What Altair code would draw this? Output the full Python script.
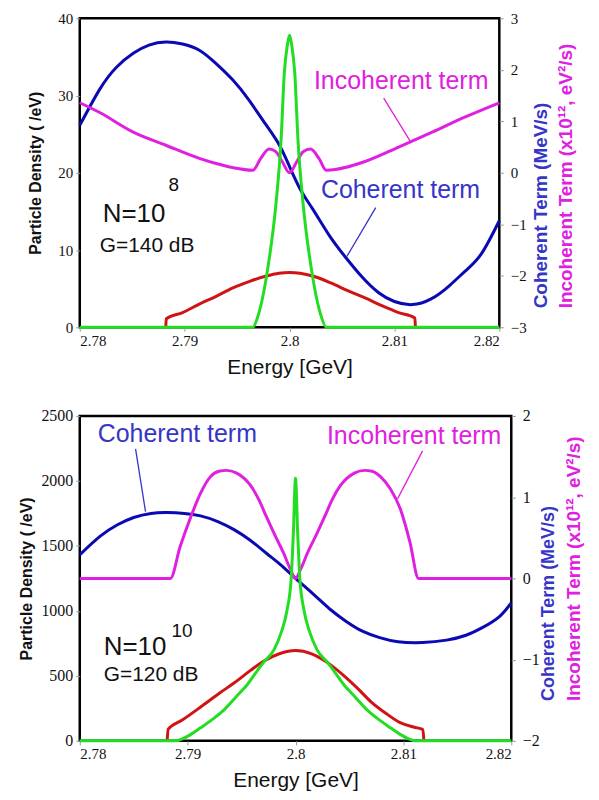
import altair as alt
import pandas as pd

# ---------------- data ----------------
# Top panel (N=1e8, G=140 dB)
top_green_E = [2.7800, 2.7965, 2.7970, 2.7979, 2.7987, 2.7992, 2.7995, 2.7998, 2.8000,
               2.8002, 2.8005, 2.8008, 2.8013, 2.8021, 2.8030, 2.8035, 2.8200]
top_green_v = [0, 0, 1.5, 7.4, 15.9, 24.4, 32.9, 36.6, 37.8,
               36.6, 32.9, 24.4, 15.9, 7.4, 1.5, 0, 0]

top_red_E = [2.7882, 2.78825, 2.7898, 2.7914, 2.7930, 2.7946, 2.7962, 2.7977, 2.7990, 2.8000,
             2.8010, 2.8023, 2.8040, 2.8056, 2.8072, 2.8088, 2.8104, 2.81195, 2.8120]
top_red_v = [0, 1.1, 1.9, 3.0, 4.0, 5.1, 5.95, 6.6, 7.0, 7.1,
             7.0, 6.6, 5.7, 4.7, 3.8, 2.8, 1.9, 1.2, 0]

top_blue_E = [2.7800, 2.7819, 2.7835, 2.7851, 2.7866, 2.7882, 2.7898, 2.7914, 2.7930, 2.7946,
              2.7961, 2.7977, 2.7990, 2.8000, 2.8011, 2.8022, 2.8038, 2.8053, 2.8069, 2.8085,
              2.8100, 2.8117, 2.8135, 2.8152, 2.8168, 2.8183, 2.8200]
top_blue_r = [0.92, 1.62, 2.05, 2.32, 2.48, 2.54, 2.50, 2.38, 2.12, 1.80,
              1.42, 0.95, 0.55, 0.12, -0.35, -0.70, -1.22, -1.63, -2.02, -2.33,
              -2.50, -2.56, -2.45, -2.20, -1.90, -1.57, -0.93]

top_mag_E = [2.7800, 2.7819, 2.7851, 2.7882, 2.7914, 2.7930, 2.7946, 2.7965, 2.79726, 2.79805,
             2.79869, 2.7993, 2.8000, 2.8007, 2.8013, 2.8020, 2.8028, 2.8035, 2.8072, 2.8104,
             2.8136, 2.8167, 2.8200]
top_mag_r = [1.36, 1.17, 0.79, 0.535, 0.28, 0.18, 0.10, 0.05, 0.28, 0.46,
             0.41, 0.22, 0.0, 0.22, 0.41, 0.46, 0.28, 0.05, 0.22, 0.50,
             0.79, 1.08, 1.36]

# Bottom panel (N=1e10, G=120 dB)
bot_green_E = [2.7800, 2.7889, 2.7895, 2.7903, 2.7912, 2.7923, 2.7934, 2.7945, 2.7955, 2.7965,
               2.7970, 2.7980, 2.7987, 2.7992, 2.7996, 2.7998, 2.8000, 2.8002, 2.8004, 2.8008,
               2.8013, 2.8020, 2.8030, 2.8035, 2.8045, 2.8055, 2.8066, 2.8077, 2.8088, 2.8097,
               2.8105, 2.8111, 2.8200]
bot_green_v = [0, 0, 15, 50, 100, 165, 240, 340, 430, 545,
               600, 700, 840, 1000, 1250, 1600, 2020, 1600, 1250, 1000,
               840, 700, 600, 545, 430, 340, 240, 165, 100, 50,
               15, 0, 0]

bot_red_E = [2.7881, 2.7882, 2.7895, 2.7912, 2.7930, 2.7943, 2.7958, 2.7970, 2.7985, 2.8000,
             2.8015, 2.8030, 2.8045, 2.8058, 2.8070, 2.8084, 2.8097, 2.8110, 2.8118, 2.8119]
bot_red_v = [0, 90, 160, 260, 370, 445, 540, 611, 670, 695,
             670, 600, 500, 400, 300, 210, 140, 105, 87, 0]

bot_blue_E = [2.7800, 2.7819, 2.7835, 2.7850, 2.7866, 2.7881, 2.7897, 2.7912, 2.7928, 2.7943,
              2.7958, 2.7973, 2.7986, 2.8000, 2.8017, 2.8032, 2.8047, 2.8062, 2.8078, 2.8095,
              2.8118, 2.8140, 2.8158, 2.8174, 2.8189, 2.8200]
bot_blue_r = [0.29, 0.52, 0.66, 0.75, 0.80, 0.81, 0.80, 0.77, 0.70, 0.60,
              0.47, 0.31, 0.17, 0.00, -0.20, -0.38, -0.53, -0.65, -0.73, -0.78,
              -0.79, -0.76, -0.70, -0.60, -0.47, -0.30]

bot_mag_E = [2.7800, 2.7884, 2.7893, 2.7903, 2.7912, 2.7921, 2.7929, 2.7936, 2.7945, 2.7958,
             2.7966, 2.7973, 2.7981, 2.7989, 2.7995, 2.8000, 2.8005, 2.8011, 2.8019, 2.8027,
             2.8034, 2.8042, 2.8055, 2.8064, 2.8071, 2.8079, 2.8088, 2.8097, 2.8106,
             2.8114, 2.8200]
bot_mag_r = [0, 0, 0.39, 0.76, 1.05, 1.25, 1.32, 1.33, 1.30, 1.15,
             0.97, 0.76, 0.53, 0.31, 0.12, 0.0, 0.12, 0.31, 0.53, 0.76,
             0.97, 1.15, 1.30, 1.33, 1.32, 1.25, 1.10, 0.86, 0.45,
             0.0, 0.0]

x_ticks = [2.78, 2.79, 2.80, 2.81, 2.82]
top_left_ticks = [0, 10, 20, 30, 40]
top_right_ticks = [-3, -2, -1, 0, 1, 2, 3]
bot_left_ticks = [0, 500, 1000, 1500, 2000, 2500]
bot_right_ticks = [-2, -1, 0, 1, 2]

# ---------------- styling ----------------
GREEN = "#22dd22"
RED = "#d01414"
BLUE = "#0a0ab4"
MAGENTA = "#e020e0"
BLUE_TXT = "#3535c8"
SANS = "Liberation Sans, Arial, sans-serif"
SERIF = "Liberation Serif, Times New Roman, serif"


def long_df(series):
    rows = []
    for name, xs, ys in series:
        for i, (e, v) in enumerate(zip(xs, ys)):
            rows.append({"series": name, "E": e, "v": v, "i": i})
    return pd.DataFrame(rows)


def text_layer(txt, x, y, size, color, weight="normal", angle=0, align="left"):
    return alt.Chart(pd.DataFrame({"t": [txt]})).mark_text(
        font=SANS, fontSize=size, color=color, fontWeight=weight, angle=angle,
        align=align, baseline="alphabetic" if angle == 0 else "middle"
    ).encode(x=alt.value(x), y=alt.value(y), text="t:N")


def rule_layer(x1, y1, x2, y2, color):
    return alt.Chart(pd.DataFrame({"a": [0]})).mark_rule(
        color=color, strokeWidth=1.3
    ).encode(x=alt.value(x1), x2=alt.value(x2), y=alt.value(y1), y2=alt.value(y2))


def panel(w, h, left_df, right_df, left_dom, left_ticks, right_dom, right_ticks,
          left_title_pad, label_size, extras):
    xenc = alt.X(
        "E:Q",
        scale=alt.Scale(domain=[2.78, 2.82], nice=False, zero=False),
        axis=alt.Axis(values=x_ticks, format=".3~g", title="Energy [GeV]",
                      labelFont=SERIF, labelFontSize=15, labelColor="#111",
                      labelPadding=2, tickSize=4, tickColor="#999",
                      titleFont=SANS, titleFontSize=21, titleFontWeight="normal",
                      titleColor="#111", titlePadding=8, domain=False, grid=False),
    )
    left = alt.Chart(left_df).mark_line(strokeWidth=3, interpolate="monotone").encode(
        x=xenc,
        y=alt.Y("v:Q", scale=alt.Scale(domain=left_dom, nice=False),
                axis=alt.Axis(orient="left", values=left_ticks, format="d",
                              title="Particle Density ( /eV)",
                              labelFont=SERIF, labelFontSize=label_size, labelColor="#111",
                              labelPadding=3, tickSize=4, tickColor="#999",
                              titleFont=SANS, titleFontSize=16, titleFontWeight="bold",
                              titleColor="#111", titlePadding=left_title_pad,
                              domain=False, grid=False)),
        color=alt.Color("series:N", scale=alt.Scale(domain=["red", "green"], range=[RED, GREEN]),
                        legend=None),
        order="i:Q",
    )
    right_axis = alt.Axis(orient="right", values=right_ticks, format="d", title=None,
                          labelFont=SERIF, labelFontSize=label_size, labelColor="#111",
                          labelPadding=7, tickSize=4, tickColor="#999",
                          domain=False, grid=False)
    rscale = alt.Scale(domain=right_dom, nice=False)
    blue = alt.Chart(right_df[right_df.series == "blue"]).mark_line(
        strokeWidth=3, interpolate="natural", color=BLUE).encode(
        x=xenc, y=alt.Y("v:Q", scale=rscale, axis=right_axis), order="i:Q")
    magenta = alt.Chart(right_df[right_df.series == "magenta"]).mark_line(
        strokeWidth=3, interpolate="monotone", color=MAGENTA).encode(
        x=xenc, y=alt.Y("v:Q", scale=rscale, axis=right_axis), order="i:Q")
    right = alt.layer(blue, magenta)
    return alt.layer(right, left, *extras).resolve_scale(y="independent", color="independent").properties(
        width=w, height=h)


top_left_df = long_df([("red", top_red_E, top_red_v), ("green", top_green_E, top_green_v)])
top_right_df = long_df([("blue", top_blue_E, top_blue_r), ("magenta", top_mag_E, top_mag_r)])
bot_left_df = long_df([("red", bot_red_E, bot_red_v), ("green", bot_green_E, bot_green_v)])
bot_right_df = long_df([("blue", bot_blue_E, bot_blue_r), ("magenta", bot_mag_E, bot_mag_r)])

top_extras = [
    text_layer("Incoherent term", 235, 71, 25, MAGENTA),
    rule_layer(305, 80, 332, 124, MAGENTA),
    text_layer("Coherent term", 242, 180, 25, BLUE_TXT),
    rule_layer(297, 190, 268, 239, BLUE_TXT),
    text_layer("N=10", 23, 204, 26, "#111"),
    text_layer("8", 89, 173, 19, "#111"),
    text_layer("G=140 dB", 20, 234, 21, "#111"),
    text_layer("Coherent Term (MeV/s)", 463, 291, 19, BLUE_TXT, "bold", 270),
    text_layer("Incoherent Term (x10¹², eV²/s)", 488, 291, 19, MAGENTA, "bold", 270),
]

bot_extras = [
    text_layer("Coherent term", 18, 26, 25, BLUE_TXT),
    rule_layer(56, 33, 66, 96, BLUE_TXT),
    text_layer("Incoherent term", 248, 28, 25, MAGENTA),
    rule_layer(344, 35, 319, 83, MAGENTA),
    text_layer("N=10", 24, 240, 26, "#111"),
    text_layer("10", 92, 222, 19, "#111"),
    text_layer("G=120 dB", 24, 266, 21, "#111"),
    text_layer("Coherent Term (MeV/s)", 471, 286, 18, BLUE_TXT, "bold", 270),
    text_layer("Incoherent Term (x10¹², eV²/s)", 496, 286, 19, MAGENTA, "bold", 270),
]

top = panel(421, 310, top_left_df, top_right_df, [0, 40], top_left_ticks, [-3, 3], top_right_ticks,
            14, 15, top_extras)
bottom = panel(433, 326, bot_left_df, bot_right_df, [0, 2500], bot_left_ticks, [-2, 2], bot_right_ticks,
               6, 16, bot_extras)

chart = alt.vconcat(top, bottom, spacing=27).properties(
    padding={"top": 0, "left": 9, "right": 5, "bottom": 5}
).configure(background="white").configure_view(stroke="black", strokeWidth=2.5)

chart.save("out.html", embed_options={"renderer": "svg", "actions": False})
